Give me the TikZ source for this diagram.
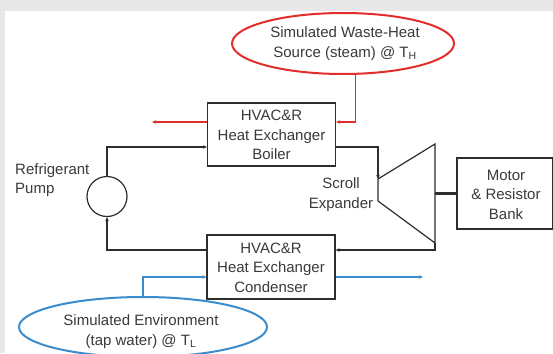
\documentclass[tikz,border=0pt]{standalone}
\usepackage{fontspec}
\setmainfont{Liberation Sans}
\usetikzlibrary{shapes.geometric,arrows.meta}
\definecolor{bgray}{RGB}{233,232,232}
\definecolor{ink}{RGB}{58,58,58}
\definecolor{lineblk}{RGB}{45,45,45}
\definecolor{hotred}{RGB}{226,45,45}
\definecolor{coolblue}{RGB}{58,140,205}
\tikzset{
  txt/.style={font=\fontsize{15}{19.5}\selectfont, text=ink, align=center, inner sep=0pt},
  hxbox/.style={draw=lineblk, line width=1.2pt, fill=white, minimum width=128pt, minimum height=63pt, inner sep=0pt},
  pumpc/.style={draw=lineblk, line width=1.2pt, circle, minimum size=40pt, inner sep=0pt},
  flow/.style={draw=lineblk, line width=1.2pt, -{Stealth[length=4pt,width=3.5pt]}},
  hotflow/.style={draw=hotred, line width=1.3pt, -{Stealth[length=4pt,width=3.5pt]}},
  coolflow/.style={draw=coolblue, line width=1.3pt, -{Stealth[length=4pt,width=3.5pt]}},
  srcell/.style={ellipse, draw=#1, line width=2pt, fill=white, inner sep=0pt}
}
\begin{document}
\begin{tikzpicture}[x=1pt,y=-1pt]
\useasboundingbox (0,0) rectangle (553,353);
\fill[bgray] (0,0) rectangle (553,353);
\fill[white] (5,11) rectangle (553,353);

% level coordinates
\coordinate (yR) at (0,122);
\coordinate (yB1) at (0,147);
\coordinate (yB2) at (0,250);
\coordinate (yBl) at (0,277);

% ellipses
\node[srcell=hotred, minimum width=222pt, minimum height=61pt] (srcE) at (343,43.5) {};
\node[txt] (srcT) at (345,43.5) {Simulated Waste-Heat\\Source (steam) @ T\textsubscript{H}};

% boxes
\node[hxbox, minimum height=63pt] (boiler) at (271.5,134.5) {};
\node[txt] (boilerT) at (271.5,135) {HVAC\&R\\Heat Exchanger\\Boiler};
\node[hxbox, minimum height=64pt] (cond) at (271,267) {};
\node[txt] (condT) at (271,267.5) {HVAC\&R\\Heat Exchanger\\Condenser};
\node[draw=lineblk, line width=1.2pt, minimum width=96pt, minimum height=71pt, inner sep=0pt] (motor) at (505,193.5) {};
\node[txt] (motorT) at (506,194.5) {Motor\\\& Resistor\\Bank};

% pump
\node[pumpc] (pump) at (107,196.5) {};
\node[txt, anchor=west, align=left] (pumpT) at (15,180) {Refrigerant\\Pump};

% expander
\coordinate (ex1) at (378,179);
\coordinate (ex2) at (435,144);
\coordinate (ex3) at (435,243);
\coordinate (ex4) at (378,201);
\draw[lineblk, line width=1.2pt, line join=miter] (ex1) -- (ex2) -- (ex3) -- (ex4) -- cycle;
\node[txt] (expT) at (341,194.5) {Scroll\\Expander};

% free ends
\coordinate (redEnd) at (152,122);
\coordinate (blueEnd) at (423,277);

% connectors
\draw[hotflow] (srcE.-68) |- (boiler.east |- yR);
\draw[hotflow] (boiler.west |- yR) -- (redEnd);
\draw[flow] (pump.north) |- (boiler.west |- yB1);
\draw[flow] (boiler.east |- yB1) -| (ex1);
\draw[flow] (ex3) |- (cond.east |- yB2);
\draw[flow] (cond.west |- yB2) -| (pump.south);
\draw[lineblk, line width=2.8pt] (motor.west -| ex2) -- (motor.west);

% blue ellipse
\node[srcell=coolblue, minimum width=248pt, minimum height=60pt] (envE) at (143,327) {};
\node[txt] (envT) at (141,331.5) {Simulated Environment\\(tap water) @ T\textsubscript{L}};
\draw[coolflow] (envE.north) |- (cond.west |- yBl);
\draw[coolflow] (cond.east |- yBl) -- (blueEnd);
\end{tikzpicture}
\end{document}
